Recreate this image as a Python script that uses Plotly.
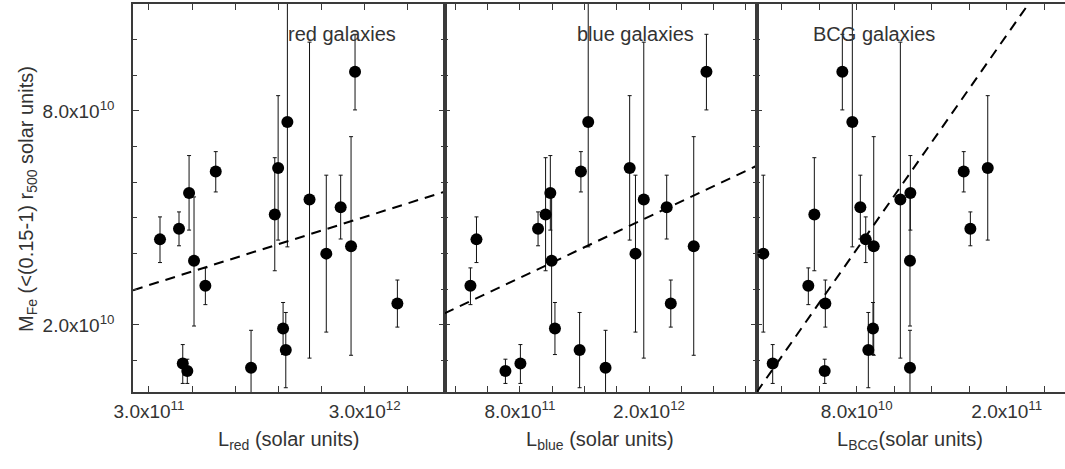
import plotly.graph_objects as go

# ---------------- data ----------------
# Iron mass M_Fe (units of 1e10 solar masses) with upper / lower error limits
mfe = [4.40, 4.70, 5.70, 3.80, 0.92, 0.71, 3.10, 6.30, 0.80, 5.10,
       6.40, 1.90, 1.30, 7.69, 5.52, 4.00, 5.30, 4.21, 9.10, 2.60]
mfe_hi = [5.03, 5.17, 6.75, 5.59, 1.45, 1.04, 3.60, 6.86, 1.85, 6.69,
          8.43, 2.63, 2.35, 11.2, 9.93, 6.20, 6.20, 7.28, 10.15, 3.26]
mfe_lo = [3.75, 4.22, 4.66, 1.97, 0.36, 0.36, 2.57, 5.73, -0.25, 3.52,
          4.38, 1.17, 0.24, 4.19, 1.07, 1.80, 4.41, 1.15, 8.03, 1.94]

# Luminosities
l_red = [4.38, 6.76, 8.02, 8.64, 7.23, 7.80, 10.06, 11.36, 15.78, 18.75,
         19.17, 19.79, 20.13, 20.33, 23.1, 25.2, 27.0, 28.3, 28.8, 34.1]      # 1e11
l_blue = [3.97, 9.69, 10.83, 10.95, 8.05, 6.66, 3.41, 13.67, 15.96, 10.39,
          18.2, 11.26, 13.55, 14.35, 19.51, 18.74, 21.64, 24.15, 25.33, 22.02]  # 1e11
l_bcg = [8.72, 17.09, 12.29, 12.26, 1.28, 5.44, 4.13, 16.56, 12.26, 4.61,
         18.48, 9.30, 8.93, 7.65, 11.49, 0.53, 8.29, 9.36, 6.85, 5.49]          # 1e10

# linear fits: (intercept, slope)
fit_red = (2.904e10, 0.00708)
fit_blue = (2.18e10, 0.01428)
fit_bcg = (0.115e10, 0.5007)

# axis ranges and ticks
y_range = [0.12e10, 11e10]
y_tickvals = [2e10, 8e10]
y_ticktext = ["2.0x10<sup>10</sup>", "8.0x10<sup>10</sup>"]

red_range = [1e11, 4e12]
red_tickvals = [3e11, 8.4e11, 1.38e12, 1.92e12, 2.46e12, 3e12, 3.54e12]
red_ticktext = ["3.0x10<sup>11</sup>", "", "", "", "", "3.0x10<sup>12</sup>", ""]

blue_range = [1e11, 3e12]
blue_tickvals = [2e11, 5e11, 8e11, 1.1e12, 1.4e12, 1.7e12, 2e12, 2.3e12, 2.6e12, 2.9e12]
blue_ticktext = ["", "", "8.0x10<sup>11</sup>", "", "", "", "2.0x10<sup>12</sup>", "", "", ""]

bcg_range = [0, 2.466e11]
bcg_tickvals = [2e10, 5e10, 8e10, 1.1e11, 1.4e11, 1.7e11, 2e11, 2.3e11]
bcg_ticktext = ["", "", "8.0x10<sup>10</sup>", "", "", "", "2.0x10<sup>11</sup>", ""]

panel_labels = ["red galaxies", "blue galaxies", "BCG galaxies"]
x_titles = ["L<sub>red</sub> (solar units)", "L<sub>blue</sub> (solar units)",
            "L<sub>BCG</sub>(solar units)"]
y_title = "M<sub>Fe</sub> (<(0.15-1) r<sub>500</sub> solar units)"

# ---------------- figure ----------------
W, H = 1065, 469
FONT = "Liberation Sans, Arial, Helvetica, sans-serif"
TXT = "#333333"
LINE = "#3a3a3a"

y = [v * 1e10 for v in mfe]
err_plus = [(h - v) * 1e10 for h, v in zip(mfe_hi, mfe)]
err_minus = [(v - l) * 1e10 for v, l in zip(mfe, mfe_lo)]

panels = [
    ([v * 1e11 for v in l_red], fit_red, red_range),
    ([v * 1e11 for v in l_blue], fit_blue, blue_range),
    ([v * 1e10 for v in l_bcg], fit_bcg, bcg_range),
]

fig = go.Figure()
for i, (xs, fit, rng) in enumerate(panels):
    xa = "x" if i == 0 else f"x{i+1}"
    ya = "y" if i == 0 else f"y{i+1}"
    fig.add_trace(go.Scatter(
        x=xs, y=y, mode="markers", xaxis=xa, yaxis=ya,
        marker=dict(size=12, color="black"),
        error_y=dict(type="data", symmetric=False, array=err_plus,
                     arrayminus=err_minus, thickness=1, width=2, color="#111111"),
        showlegend=False, hoverinfo="skip"))
    fx = [rng[0], rng[1]]
    fy = [fit[0] + fit[1] * v for v in fx]
    fig.add_trace(go.Scatter(
        x=fx, y=fy, mode="lines", xaxis=xa, yaxis=ya,
        line=dict(color="black", width=2, dash="10px,7px"),
        showlegend=False, hoverinfo="skip"))

x_bounds = [133 / W, 444.5 / W, 756.7 / W, 1.0]
y_dom = [1 - 392 / H, 1 - 4 / H]

common_axis = dict(showline=True, linecolor=LINE, linewidth=1.5, showgrid=False,
                   zeroline=False, ticks="inside", tickcolor=LINE, tickwidth=1,
                   automargin=False,
                   tickfont=dict(family=FONT, size=19, color=TXT))

xticks = [(red_range, red_tickvals, red_ticktext),
          (blue_range, blue_tickvals, blue_ticktext),
          (bcg_range, bcg_tickvals, bcg_ticktext)]

layout = dict(width=W, height=H, margin=dict(l=0, r=0, t=0, b=0, pad=0, autoexpand=False),
              paper_bgcolor="white", plot_bgcolor="white",
              font=dict(family=FONT, color=TXT))
for i, (rng, tv, tt) in enumerate(xticks):
    key = "xaxis" if i == 0 else f"xaxis{i+1}"
    ykey = "yaxis" if i == 0 else f"yaxis{i+1}"
    layout[key] = dict(common_axis, domain=[x_bounds[i], x_bounds[i + 1]],
                       range=rng, anchor="y" if i == 0 else f"y{i+1}",
                       tickmode="array", tickvals=tv, ticktext=tt, ticklen=6,
                       mirror="ticks", ticklabelstandoff=1)
    layout[ykey] = dict(common_axis, domain=y_dom, range=y_range,
                        anchor="x" if i == 0 else f"x{i+1}",
                        tickmode="array", tickvals=y_tickvals, ticktext=y_ticktext,
                        ticklen=6, showticklabels=(i == 0),
                        mirror=("ticks" if i < 2 else False),
                        minor=dict(tick0=0, dtick=1e10, ticks="inside", ticklen=4,
                                   tickcolor=LINE),
                        ticklabelstandoff=13)

annotations = []
label_x = [341.5, 635.5, 874]
for lx, txt in zip(label_x, panel_labels):
    annotations.append(dict(x=lx / W, y=1 - 34 / H, xref="paper", yref="paper",
                            xanchor="center", yanchor="middle",
                            text=txt, showarrow=False,
                            font=dict(family=FONT, size=20, color=TXT)))
title_x = [288.5, 600, 910]
for tx, txt in zip(title_x, x_titles):
    annotations.append(dict(x=tx / W, y=1 - 440 / H, xref="paper", yref="paper",
                            xanchor="center", yanchor="middle",
                            text=txt, showarrow=False,
                            font=dict(family=FONT, size=20, color=TXT)))
annotations.append(dict(x=28 / W, y=1 - 199 / H, xref="paper", yref="paper",
                        xanchor="center", yanchor="middle",
                        text=y_title, textangle=-90, showarrow=False,
                        font=dict(family=FONT, size=20, color=TXT)))
layout["annotations"] = annotations

fig.update_layout(**layout)
fig.write_html("out.html")
